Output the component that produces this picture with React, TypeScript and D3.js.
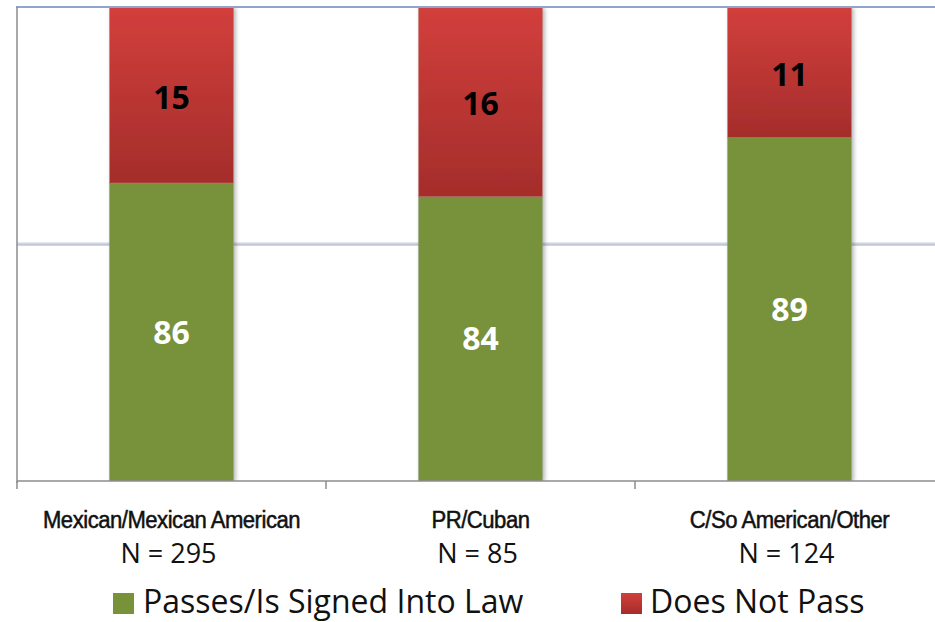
import React from "react";
import * as d3 from "d3";

const categories = ["Mexican/Mexican American", "PR/Cuban", "C/So American/Other"];
const sampleSizes = ["N = 295", "N = 85", "N = 124"];
const passes = [86, 84, 89];
const notPass = [15, 16, 11];
const seriesNames = ["Passes/Is Signed Into Law", "Does Not Pass"];
const yDomain = [60, 100];
const gridValues = [80];

const W = 935;
const H = 622;

export default function App() {
  const left = 17;
  const top = 7;
  const bottom = 481;
  const x = d3
    .scaleBand<string>()
    .domain(categories)
    .range([left, 944])
    .paddingInner(0.6)
    .paddingOuter(0.3);
  const y = d3.scaleLinear().domain(yDomain).range([bottom, top]);
  const step = x.step();

  const rows = categories.map((c, i) => {
    const total = passes[i] + notPass[i];
    const pct = (passes[i] / total) * 100;
    return { c, i, pct };
  });

  const tickXs = categories.map((_, i) => left + i * step);

  return (
    <svg
      width={W}
      height={H}
      style={{ position: "absolute", left: 0, top: 0, background: "#fff" }}
    >
      <defs>
        <linearGradient id="redGrad" x1="0" y1="0" x2="0" y2="1">
          <stop offset="0%" stopColor="#d23f3c" />
          <stop offset="100%" stopColor="#a42d2b" />
        </linearGradient>
        <linearGradient id="redLegend" x1="0" y1="0" x2="0" y2="1">
          <stop offset="0%" stopColor="#d23f3c" />
          <stop offset="100%" stopColor="#a42d2b" />
        </linearGradient>
        <filter id="shadow" x="-10%" y="-5%" width="125%" height="115%">
          <feGaussianBlur in="SourceAlpha" stdDeviation="2" />
          <feOffset dx="2" dy="1" result="b" />
          <feComponentTransfer>
            <feFuncA type="linear" slope="0.3" />
          </feComponentTransfer>
          <feMerge>
            <feMergeNode />
            <feMergeNode in="SourceGraphic" />
          </feMerge>
        </filter>
        <clipPath id="plotClip">
          <rect x={left} y={top} width={W - left} height={bottom - top} />
        </clipPath>
      </defs>

      {/* grid line */}
      {gridValues.map((g) => (
        <g key={g}>
          <line x1={left} x2={W} y1={y(g) - 0.5} y2={y(g) - 0.5} stroke="#cdd5e6" strokeWidth={2} />
          <line x1={left} x2={W} y1={y(g) + 1} y2={y(g) + 1} stroke="#a3aab8" strokeWidth={1} />
        </g>
      ))}

      {/* bars */}
      <g clipPath="url(#plotClip)">
        {rows.map((r) => {
          const bx = x(r.c)!;
          const bw = x.bandwidth();
          const yMid = y(r.pct);
          return (
            <g key={r.c} filter="url(#shadow)">
              <rect x={bx} y={yMid} width={bw} height={y(yDomain[0]) - yMid} fill="#78923a" stroke="#8a9a70" strokeWidth={0.6} />
              <rect x={bx} y={y(100)} width={bw} height={yMid - y(100)} fill="url(#redGrad)" stroke="#b86a68" strokeWidth={0.6} />
            </g>
          );
        })}
      </g>

      {/* top border */}
      <line x1={left - 1} x2={W} y1={top} y2={top} stroke="#91a5cc" strokeWidth={2} />

      {/* axes */}
      <line x1={left} x2={left} y1={top} y2={bottom + 2} stroke="#8c8c8c" strokeWidth={1.5} />
      <line x1={left} x2={W} y1={bottom} y2={bottom} stroke="#8c8c8c" strokeWidth={1.5} />
      {tickXs.map((tx, i) => (
        <line key={i} x1={tx} x2={tx} y1={bottom} y2={bottom + 8} stroke="#8c8c8c" strokeWidth={1.5} />
      ))}

      {/* value labels */}
      {rows.map((r) => {
        const cx = x(r.c)! + x.bandwidth() / 2;
        const yMid = y(r.pct);
        const gy = (yMid + y(yDomain[0])) / 2;
        const ry = (yMid + y(100)) / 2;
        return (
          <g key={r.c} fontFamily="'Open Sans', sans-serif" fontWeight="bold" fontSize={32} textAnchor="middle">
            <text x={cx} y={gy} dy="0.36em" fill="#ffffff">
              {passes[r.i]}
            </text>
            <text x={cx} y={ry + 2} dy="0.36em" fill="#000000">
              {notPass[r.i]}
            </text>
          </g>
        );
      })}

      {/* category labels */}
      {categories.map((c, i) => {
        const cx = x(c)! + x.bandwidth() / 2;
        return (
          <g key={c} textAnchor="middle">
            <g transform={`translate(${cx},528) scale(0.96,1)`}>
              <text
                x={0}
                y={0}
                fontFamily="'Liberation Sans', Arial, sans-serif"
                fontSize={23}
                fill="#111"
                stroke="#111"
                strokeWidth={0.5}
                style={{ letterSpacing: "-0.5px" }}
              >
                {c}
              </text>
            </g>
            <text x={cx - 3} y={563} fontFamily="'Open Sans', sans-serif" fontSize={27} fill="#111">
              {sampleSizes[i]}
            </text>
          </g>
        );
      })}

      {/* legend */}
      <g fontFamily="'Open Sans', sans-serif" fontSize={32} fill="#111">
        <rect x={113} y={593} width={21} height={21} fill="#78923a" />
        <text x={143} y={613}>{seriesNames[0]}</text>
        <rect x={621} y={593} width={21} height={21} fill="url(#redLegend)" />
        <text x={650} y={613}>{seriesNames[1]}</text>
      </g>
    </svg>
  );
}
